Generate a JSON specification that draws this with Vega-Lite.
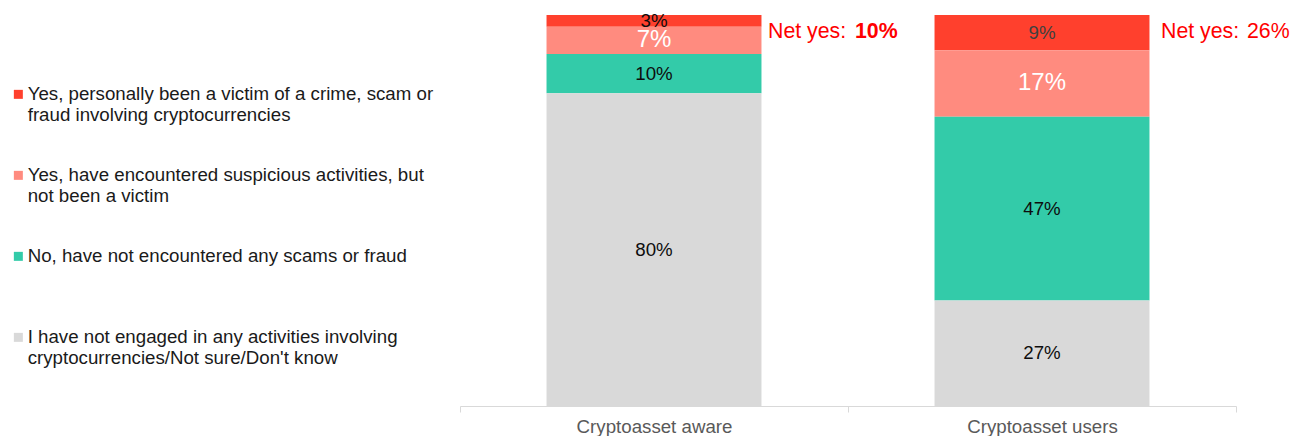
{
  "$schema": "https://vega.github.io/schema/vega-lite/v6.json",
  "autosize": "none",
  "width": 776,
  "height": 391,
  "padding": {"left": 460, "top": 15, "right": 65, "bottom": 30},
  "background": "white",
  "config": {"view": {"stroke": null}, "font": "Liberation Sans"},
  "datasets": {
    "bars": [
      {"group": "Cryptoasset aware", "answer": "Yes, personally been a victim of a crime, scam or\nfraud involving cryptocurrencies", "key": "victim", "rank": 4, "value": 0.03},
      {"group": "Cryptoasset aware", "answer": "Yes, have encountered suspicious activities, but\nnot been a victim", "key": "suspicious", "rank": 3, "value": 0.07},
      {"group": "Cryptoasset aware", "answer": "No, have not encountered any scams or fraud\n", "key": "no", "rank": 2, "value": 0.10},
      {"group": "Cryptoasset aware", "answer": "I have not engaged in any activities involving\ncryptocurrencies/Not sure/Don't know", "key": "none", "rank": 1, "value": 0.80},
      {"group": "Cryptoasset users", "answer": "Yes, personally been a victim of a crime, scam or\nfraud involving cryptocurrencies", "key": "victim", "rank": 4, "value": 0.09},
      {"group": "Cryptoasset users", "answer": "Yes, have encountered suspicious activities, but\nnot been a victim", "key": "suspicious", "rank": 3, "value": 0.17},
      {"group": "Cryptoasset users", "answer": "No, have not encountered any scams or fraud\n", "key": "no", "rank": 2, "value": 0.47},
      {"group": "Cryptoasset users", "answer": "I have not engaged in any activities involving\ncryptocurrencies/Not sure/Don't know", "key": "none", "rank": 1, "value": 0.27}
    ],
    "net": [
      {"group": "Cryptoasset aware", "net": 0.10, "top": 1},
      {"group": "Cryptoasset users", "net": 0.26, "top": 1}
    ]
  },
  "encoding": {
    "x": {
      "field": "group",
      "type": "nominal",
      "scale": {"domain": ["Cryptoasset aware", "Cryptoasset users"], "paddingInner": 0, "paddingOuter": 0},
      "axis": {
        "title": null,
        "labelAngle": 0,
        "labelFont": "Liberation Sans",
        "labelFontSize": 18.7,
        "labelColor": "#595959",
        "labelPadding": 5,
        "domainColor": "#d9d9d9",
        "domainWidth": 1,
        "tickColor": "#d9d9d9",
        "tickSize": 6,
        "tickBand": "extent",
        "ticks": true
      }
    }
  },
  "layer": [
    {
      "data": {"name": "bars"},
      "mark": {"type": "bar", "width": {"band": 0.554}},
      "encoding": {
        "y": {"field": "value", "type": "quantitative", "stack": "zero", "scale": {"domain": [0, 1], "nice": false}, "axis": null},
        "order": {"field": "rank", "type": "quantitative"},
        "color": {
          "field": "answer",
          "type": "nominal",
          "scale": {
            "domain": [
              "Yes, personally been a victim of a crime, scam or\nfraud involving cryptocurrencies",
              "Yes, have encountered suspicious activities, but\nnot been a victim",
              "No, have not encountered any scams or fraud\n",
              "I have not engaged in any activities involving\ncryptocurrencies/Not sure/Don't know"
            ],
            "range": ["#ff402d", "#ff8b7f", "#33cba9", "#d9d9d9"]
          },
          "legend": {
            "title": null,
            "orient": "none",
            "legendX": -451,
            "legendY": 70,
            "direction": "vertical",
            "symbolType": "square",
            "symbolSize": 81,
            "symbolStrokeWidth": 0,
            "symbolOffset": 0,
            "labelFont": "Liberation Sans",
            "labelFontSize": 18.7,
            "labelColor": "#1a1a1a",
            "labelLimit": 600,
            "labelOffset": 0,
            "labelExpr": "split(datum.label, '\\n')",
            "rowPadding": 41
          }
        }
      }
    },
    {
      "data": {"name": "bars"},
      "mark": {"type": "text", "font": "Liberation Sans", "baseline": "middle", "align": "center"},
      "encoding": {
        "y": {"field": "value", "type": "quantitative", "stack": "zero", "bandPosition": 0.5},
        "order": {"field": "rank", "type": "quantitative"},
        "text": {"field": "value", "type": "quantitative", "format": ".0%"},
        "color": {
          "condition": [
            {"test": "datum.key === 'suspicious'", "value": "#ffffff"},
            {"test": "datum.key === 'victim' && datum.group === 'Cryptoasset users'", "value": "#404040"}
          ],
          "value": "#0d0d0d"
        },
        "size": {
          "condition": {"test": "datum.key === 'suspicious'", "value": 24},
          "value": 18.7
        }
      }
    },
    {
      "data": {"name": "net"},
      "transform": [{"filter": "datum.group === 'Cryptoasset aware'"}],
      "mark": {"type": "text", "font": "Liberation Sans", "fontSize": 21.3, "color": "#ff0000", "align": "left", "baseline": "middle", "dx": 114, "dy": 17},
      "encoding": {
        "y": {"field": "top", "type": "quantitative"},
        "text": {"value": "Net yes:"}
      }
    },
    {
      "data": {"name": "net"},
      "transform": [{"filter": "datum.group === 'Cryptoasset aware'"}],
      "mark": {"type": "text", "font": "Liberation Sans", "fontSize": 21.3, "fontWeight": "bold", "color": "#ff0000", "align": "left", "baseline": "middle", "dx": 201, "dy": 17},
      "encoding": {
        "y": {"field": "top", "type": "quantitative"},
        "text": {"field": "net", "type": "quantitative", "format": ".0%"}
      }
    },
    {
      "data": {"name": "net"},
      "transform": [{"filter": "datum.group === 'Cryptoasset users'"}],
      "mark": {"type": "text", "font": "Liberation Sans", "fontSize": 21.3, "color": "#ff0000", "align": "left", "baseline": "middle", "dx": 119, "dy": 17},
      "encoding": {
        "y": {"field": "top", "type": "quantitative"},
        "text": {"value": "Net yes:"}
      }
    },
    {
      "data": {"name": "net"},
      "transform": [{"filter": "datum.group === 'Cryptoasset users'"}],
      "mark": {"type": "text", "font": "Liberation Sans", "fontSize": 21.3, "color": "#ff0000", "align": "left", "baseline": "middle", "dx": 205, "dy": 17},
      "encoding": {
        "y": {"field": "top", "type": "quantitative"},
        "text": {"field": "net", "type": "quantitative", "format": ".0%"}
      }
    }
  ]
}
